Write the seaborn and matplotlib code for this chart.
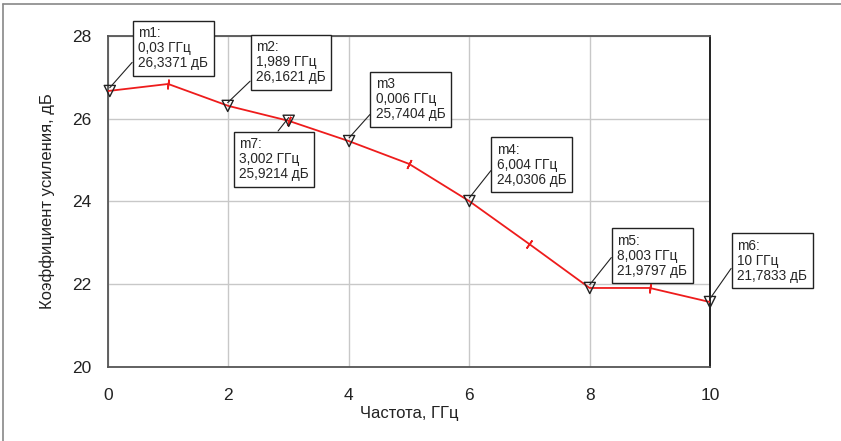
import numpy as np
import pandas as pd
import seaborn as sns
import matplotlib.pyplot as plt
from matplotlib.lines import Line2D

# trace points
freq = [0, 1, 2, 3, 4, 5, 6, 7, 8, 9, 10]
gain = [26.67, 26.84, 26.31, 25.95, 25.46, 24.91, 24.01, 22.97, 21.91, 21.91, 21.57]

# markers: name, position on trace, label text, text anchor (data coords)
marker_names = ['m1', 'm2', 'm7', 'm3', 'm4', 'm5', 'm6']
marker_x = [0.03, 1.989, 3.002, 4.006, 6.004, 8.003, 10.0]
marker_y = [26.67, 26.31, 25.95, 25.46, 24.01, 21.91, 21.57]
marker_labels = [
    'm1:\n0,03 ГГц\n26,3371 дБ',
    'm2:\n1,989 ГГц\n26,1621 дБ',
    'm7:\n3,002 ГГц\n25,9214 дБ',
    'm3\n0,006 ГГц\n25,7404 дБ',
    'm4:\n6,004 ГГц\n24,0306 дБ',
    'm5:\n8,003 ГГц\n21,9797 дБ',
    'm6:\n10 ГГц\n21,7833 дБ',
]
box_x = [0.50, 2.46, 2.18, 4.45, 6.46, 8.46, 10.45]
box_y = [28.24, 27.90, 25.56, 27.01, 25.42, 23.22, 23.10]
# where the leader line leaves the box (fraction of box width, height)
leader_rel = [(0, 0.33), (0, 0.2), (0.49, 1), (0, 0.3), (0, 0.54), (0, 0.63), (0, 0.52)]

df = pd.DataFrame({'freq': freq, 'gain': gain})

sns.set_style('white')
plt.rcParams['font.family'] = ['Liberation Sans', 'DejaVu Sans']

fig = plt.figure(figsize=(8.41, 4.41), dpi=100)
ax = fig.add_axes([0.1284, 0.1678, 0.7158, 0.7506])

ax.set_xlim(0, 10)
ax.set_ylim(20, 28)
ax.set_xticks([0, 2, 4, 6, 8, 10])
ax.set_yticks([20, 22, 24, 26, 28])
ax.grid(True, color='#c8c8c8', linewidth=1)

sns.lineplot(data=df, x='freq', y='gain', color='#ee1c1c', linewidth=1.3, ax=ax, zorder=3)

# small perpendicular ticks on odd points of the trace
for i in [1, 3, 5, 7, 9]:
    p0 = ax.transData.transform((freq[i - 1], gain[i - 1]))
    p1 = ax.transData.transform((freq[i + 1], gain[i + 1]))
    ang = np.degrees(np.arctan2(p1[1] - p0[1], p1[0] - p0[0]))
    ax.plot(freq[i], gain[i], marker=(2, 2, ang), markersize=7,
            color='#ee1c1c', markeredgewidth=1.2, zorder=4, clip_on=False)

ax.scatter(marker_x, marker_y, marker='v', s=65, facecolor='none',
           edgecolor='#222222', linewidth=1.0, zorder=5, clip_on=False)

for name, mx, my, txt, bx, by, rel in zip(marker_names, marker_x, marker_y,
                                         marker_labels, box_x, box_y, leader_rel):
    ax.annotate(txt, xy=(mx, my + 0.08), xytext=(bx, by),
                fontsize=9.8, ha='left', va='top', linespacing=1.1,
                bbox=dict(boxstyle='square,pad=0.4', fc='white', ec='#222222', lw=1),
                arrowprops=dict(arrowstyle='-', color='#222222', lw=0.8,
                                shrinkA=0, shrinkB=0, relpos=rel),
                annotation_clip=False, zorder=6)

for side in ['left', 'bottom', 'top']:
    ax.spines[side].set_color('#555555')
    ax.spines[side].set_linewidth(1.3)
ax.spines['right'].set_color('#111111')
ax.spines['right'].set_linewidth(1.3)

ax.tick_params(axis='x', length=0, pad=15, labelsize=12.5, colors='#222222')
ax.tick_params(axis='y', length=0, pad=12, labelsize=12.5, colors='#222222')
ax.set_xlabel('Частота, ГГц', fontsize=12, labelpad=2, color='#222222')
ax.set_ylabel('Коэффициент усиления, дБ', fontsize=12, labelpad=12, color='#222222')

# outer frame edges
fig.add_artist(Line2D([0.004, 0.004], [0, 0.991], transform=fig.transFigure,
                      color='#888888', lw=1.2))
fig.add_artist(Line2D([0.004, 1], [0.991, 0.991], transform=fig.transFigure,
                      color='#888888', lw=1.2))

fig.savefig('out.png', dpi=100)
